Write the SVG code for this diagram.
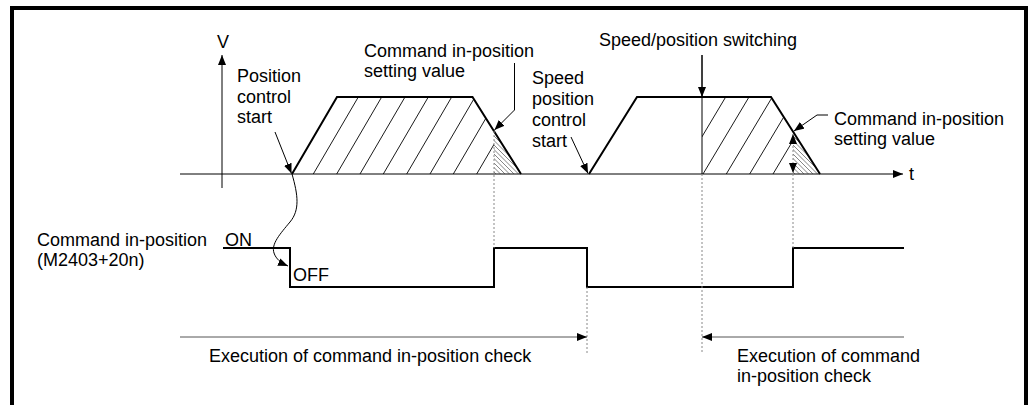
<svg xmlns="http://www.w3.org/2000/svg" width="1029" height="405" viewBox="0 0 1029 405">
<style>
text{font-family:"Liberation Sans",Arial,sans-serif;font-size:18px;fill:#000}
.thick{fill:none;stroke:#000;stroke-width:2}
.thin{fill:none;stroke:#000;stroke-width:1}
.hatch{fill:none;stroke:#000;stroke-width:0.9}
.fine{fill:none;stroke:#333;stroke-width:0.6}
.dot{fill:none;stroke:#888;stroke-width:1;stroke-dasharray:2,2}
.grey{fill:none;stroke:#555;stroke-width:1}
</style>
<defs>
<marker id="ah" viewBox="0 0 10 8" refX="10" refY="4" markerWidth="10" markerHeight="8" orient="auto-start-reverse" markerUnits="userSpaceOnUse"><path d="M0,0 L10,4 L0,8 z" fill="#000"/></marker>
<clipPath id="c1"><polygon points="292,174 337,97 472.5,97 494,130.7 494,174"/></clipPath>
<clipPath id="c2"><polygon points="702,174 702,97 771,97 793,131.6 793,174"/></clipPath>
<clipPath id="t1"><polygon points="494,130.7 521,174 494,174"/></clipPath>
<clipPath id="t2"><polygon points="793,131.6 820,174 793,174"/></clipPath>
</defs>
<path d="M12,405 V8 H1026 V405" fill="none" stroke="#000" stroke-width="4"/>
<g id="axes">
<path class="thin" d="M222,188 V55" marker-end="url(#ah)"/>
<path class="thin" d="M180,174 H903" marker-end="url(#ah)"/>
<text x="223" y="48" text-anchor="middle">V</text>
<text x="909" y="180">t</text>
</g>
<g id="hatching">
<g clip-path="url(#c1)">
<path class="hatch" d="M313.3,174 l45,-77 M336.7,174 l45,-77 M360,174 l45,-77 M383.3,174 l45,-77 M406.7,174 l45,-77 M430,174 l45,-77 M453.3,174 l45,-77 M476.7,174 l45,-77"/>
</g>
<g clip-path="url(#c2)">
<path class="hatch" d="M679.7,174 l46,-77 M703,174 l46,-77 M726.3,174 l46,-77 M749.7,174 l46,-77 M773,174 l46,-77"/>
</g>
<g clip-path="url(#t1)">
<path class="fine" d="M496,174 l-50,-50 M500.5,174 l-50,-50 M505,174 l-50,-50 M509.5,174 l-50,-50 M514,174 l-50,-50 M518.5,174 l-50,-50 M523,174 l-50,-50 M527.5,174 l-50,-50 M532,174 l-50,-50 M536.5,174 l-50,-50"/>
</g>
<g clip-path="url(#t2)">
<path class="fine" d="M795,174 l-50,-50 M799.5,174 l-50,-50 M804,174 l-50,-50 M808.5,174 l-50,-50 M813,174 l-50,-50 M817.5,174 l-50,-50 M822,174 l-50,-50 M826.5,174 l-50,-50 M831,174 l-50,-50 M835.5,174 l-50,-50"/>
</g>
</g>
<g id="trapezoid1"><path class="thick" d="M292,174 L337,97 H472.5 L521,174"/></g>
<g id="trapezoid2"><path class="thick" d="M589,174 L637,97 H771 L820,174"/></g>
<g id="signal"><path class="thick" d="M223,248 H290 V287 H494 V248 H587 V287 H793 V248 H904"/></g>
<g id="connectors">
<path class="dot" d="M494,131 V248"/>
<path class="dot" d="M587,287 V353"/>
<path class="dot" d="M702,174 V353"/>
<path class="dot" d="M793,174 V248"/>
<path class="thin" d="M702,55 V174"/>
<path class="thin" d="M702,55 V97" marker-end="url(#ah)"/>
<path class="thin" d="M275,132 L291.5,173.5" marker-end="url(#ah)"/>
<path class="thin" d="M571,137 L588,173.5" marker-end="url(#ah)"/>
<path class="thin" d="M514.5,63 V110 L494.5,130" marker-end="url(#ah)"/>
<path class="thin" d="M828,115 H817 L794,131" marker-end="url(#ah)"/>
<path class="dot" d="M793,134 V173" marker-start="url(#ah)" marker-end="url(#ah)"/>
<path class="thin" d="M292,174 C298,195 300,210 290,222 C280,234 271,244 274,253 C276,259 281,263 288,266" marker-end="url(#ah)"/>
<path class="grey" d="M180,337 H587" marker-end="url(#ah)"/>
<path class="grey" d="M904,337 H702" marker-end="url(#ah)"/>
</g>
<g id="labels">
<text x="237" y="82">Position</text>
<text x="237" y="102.5">control</text>
<text x="237" y="123">start</text>
<text x="364" y="57">Command in-position</text>
<text x="364" y="77">setting value</text>
<text x="599" y="46">Speed/position switching</text>
<text x="532" y="84">Speed</text>
<text x="532" y="105">position</text>
<text x="532" y="126">control</text>
<text x="532" y="147">start</text>
<text x="834" y="125">Command in-position</text>
<text x="834" y="145">setting value</text>
<text x="37" y="246">Command in-position</text>
<text x="37" y="266">(M2403+20n)</text>
<text x="225" y="246">ON</text>
<text x="293" y="281">OFF</text>
<text x="209" y="362">Execution of command in-position check</text>
<text x="737" y="362">Execution of command</text>
<text x="737" y="382">in-position check</text>
</g>
</svg>
